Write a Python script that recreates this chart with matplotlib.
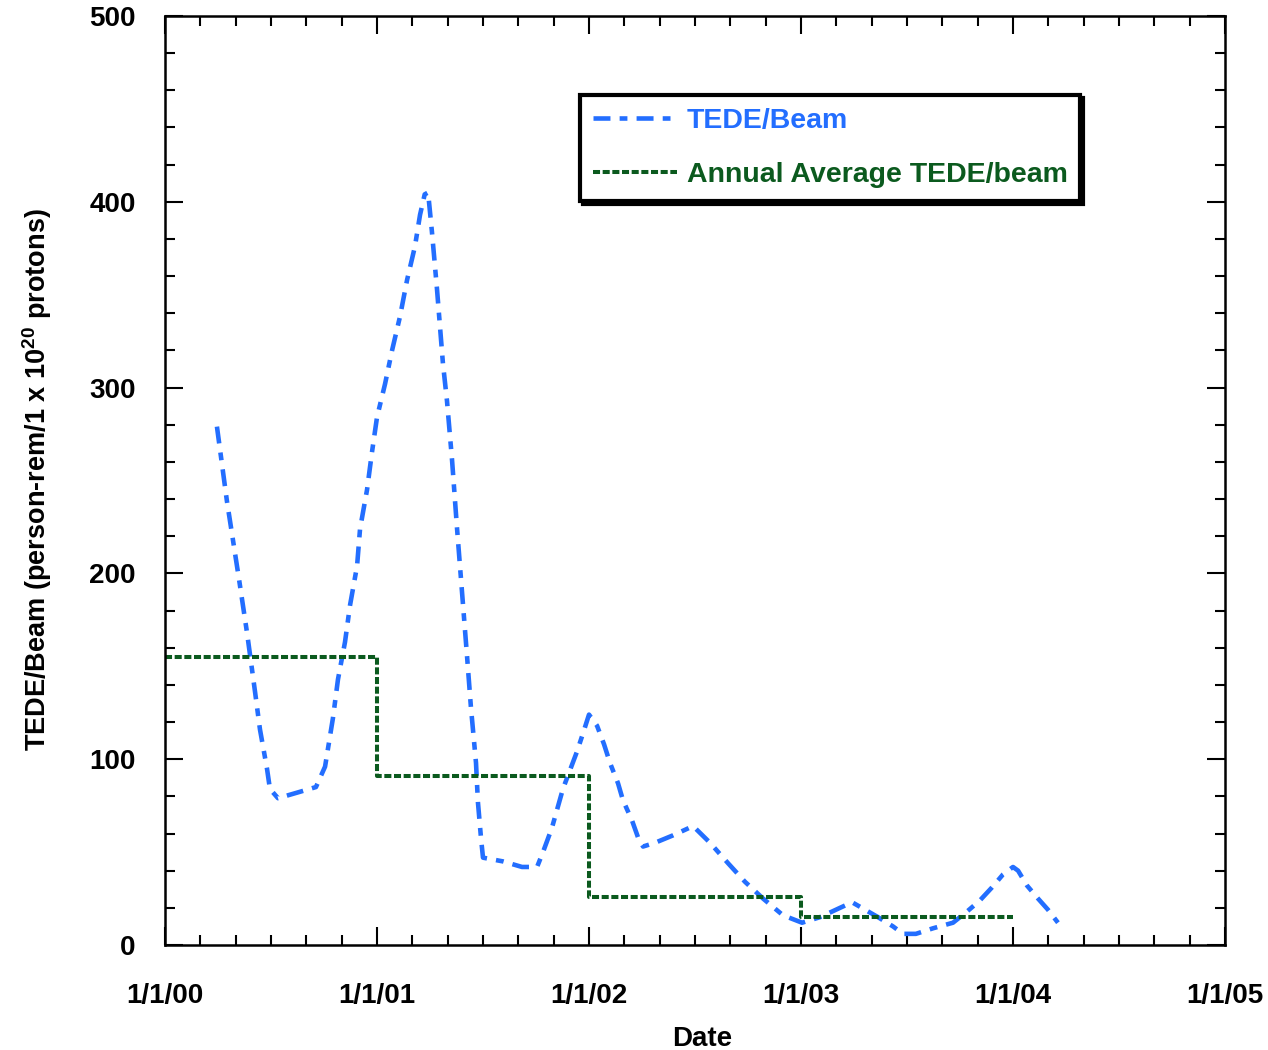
"""
TEDE per unit beam, 2000-2004, with the annual average drawn as a step line.
Values read off the original chart; x is in decimal years.
"""

import matplotlib
matplotlib.use("Agg")
import matplotlib.pyplot as plt
from matplotlib import font_manager
from matplotlib.ticker import FixedLocator, MultipleLocator

# TEDE/Beam curve (decimal year offset from 2000, person-rem per 1e20 protons)
tede_year = [0.245, 0.292, 0.349, 0.387, 0.425, 0.448, 0.481, 0.495, 0.533,
             0.623, 0.712, 0.755, 0.792, 0.816, 0.849, 0.873, 0.906, 0.920,
             0.953, 0.976, 1.000, 1.038, 1.071, 1.108, 1.142, 1.179, 1.203,
             1.225, 1.241, 1.259, 1.283, 1.311, 1.330, 1.354, 1.377, 1.401,
             1.425, 1.443, 1.467, 1.476, 1.491, 1.500, 1.594, 1.684, 1.755,
             1.783, 1.825, 1.877, 1.910, 1.943, 1.972, 2.000, 2.038, 2.071,
             2.099, 2.137, 2.160, 2.203, 2.231, 2.255, 2.311, 2.396, 2.491,
             2.571, 2.656, 2.736, 2.821, 2.915, 3.005, 3.090, 3.184, 3.241,
             3.302, 3.363, 3.434, 3.481, 3.542, 3.623, 3.717, 3.783, 3.844,
             3.901, 3.953, 4.000, 4.024, 4.066, 4.118, 4.165, 4.212]
tede_value = [279, 239, 197, 168, 136, 116, 95, 84, 79,
              82, 85, 96, 122, 143, 163, 183, 204, 224,
              245, 265, 284, 302, 320, 338, 358, 376, 393,
              404, 405, 384, 353, 313, 293, 261, 225, 190,
              155, 128, 98, 77, 57, 47, 45, 42, 42,
              50, 63, 84, 94, 104, 114, 124, 118, 108,
              98, 87, 78, 67, 58, 53, 55, 59, 64,
              55, 44, 34, 25, 16, 12, 15, 20, 23,
              19, 15, 10, 6, 6, 9, 12, 18, 24,
              31, 38, 42, 40, 32, 25, 19, 12]

# annual average, one value per calendar year
avg_year = [0, 1, 2, 3, 4]
avg_value = [155, 91, 26, 15]

year_labels = ["1/1/00", "1/1/01", "1/1/02", "1/1/03", "1/1/04", "1/1/05"]

BLUE = "#236eff"
GREEN = "#0b5a1e"


def have_font(name):
    try:
        font_manager.findfont(name, fallback_to_default=False)
        return True
    except Exception:
        return False


main_font = "Liberation Sans" if have_font("Liberation Sans") else "DejaVu Sans"
narrow_font = "Liberation Sans Narrow" if have_font("Liberation Sans Narrow") else main_font
plt.rcParams["font.family"] = [main_font, "DejaVu Sans"]
plt.rcParams["font.weight"] = "bold"
plt.rcParams["mathtext.fontset"] = "custom"
plt.rcParams["mathtext.rm"] = f"{narrow_font}:bold"
plt.rcParams["mathtext.bf"] = f"{narrow_font}:bold"

fig = plt.figure(figsize=(12.68, 10.5), dpi=100)
ax = fig.add_axes([165 / 1268, 105 / 1050, 1060 / 1268, 929 / 1050])

ax.plot(tede_year, tede_value, color=BLUE, lw=3.3, dashes=(3.7, 2.0, 1.7, 2.0),
        dash_capstyle="butt", label="TEDE/Beam")
ax.plot(avg_year, avg_value + avg_value[-1:], color=GREEN, lw=2.9,
        dashes=(1.75, 0.65), drawstyle="steps-post", dash_capstyle="butt",
        label="Annual Average TEDE/beam")

ax.set_xlim(0, 5)
ax.set_ylim(0, 500)
ax.xaxis.set_major_locator(FixedLocator(range(6)))
ax.set_xticklabels(year_labels)
ax.xaxis.set_minor_locator(MultipleLocator(1 / 6))
ax.yaxis.set_major_locator(MultipleLocator(100))
ax.yaxis.set_minor_locator(MultipleLocator(20))

for side in ax.spines.values():
    side.set_linewidth(1.8)
ax.tick_params(which="both", direction="in", top=True, right=True, width=1.5)
ax.tick_params(which="major", length=13, labelsize=20)
ax.tick_params(which="minor", length=7.5)
ax.tick_params(axis="x", which="major", pad=27)
ax.tick_params(axis="y", which="major", pad=21)
for lab in ax.get_xticklabels() + ax.get_yticklabels():
    lab.set_fontweight("bold")

ax.set_xlabel("Date", fontsize=20, fontweight="bold")
ax.xaxis.set_label_coords(0.507, -0.087)
ax.xaxis.label.set_va("top")

fig.text(37 / 1268, 1 - 480 / 1050,
         r"TEDE/Beam (person-rem/1 x 10$^{20}$ protons)",
         rotation=90, ha="center", va="center", fontsize=19.5,
         fontweight="bold", family=[narrow_font, "DejaVu Sans"])

leg = ax.legend(loc="upper left", bbox_to_anchor=(0.3915, 0.915), borderaxespad=0,
                fontsize=20.5, frameon=True, fancybox=False, edgecolor="black",
                framealpha=1, handlelength=2.95, handletextpad=0.35,
                labelspacing=1.0, borderpad=0.45, labelcolor="linecolor",
                shadow={"color": "black", "alpha": 1})
leg.get_frame().set_linewidth(3)
for t in leg.get_texts():
    t.set_fontweight("bold")

fig.savefig("out.png", dpi=100, facecolor="white")
